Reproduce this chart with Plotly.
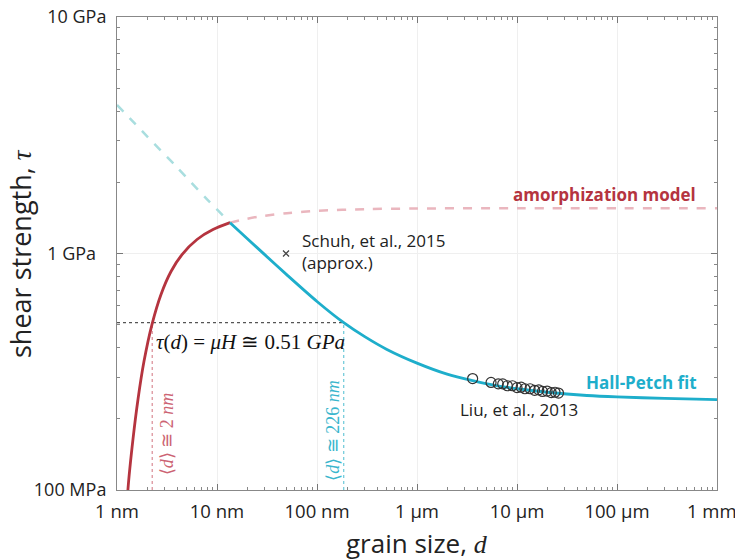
import plotly.graph_objects as go
import math

# ---------------- data ----------------
# grain size d in nm, shear strength tau in GPa
hp_dash_d = [1, 2, 4, 8, 13.5]
hp_dash_tau = [4.25, 3.13, 2.31, 1.69, 1.35]

hp_d = [13.5, 20, 30, 50, 100, 185, 300, 500, 1000, 2000, 3600, 6000, 10000, 20000, 50000, 100000, 300000, 1000000]
hp_tau = [1.35, 1.158, 0.989, 0.812, 0.627, 0.51, 0.445, 0.393, 0.344, 0.309, 0.290, 0.277, 0.268, 0.259, 0.251, 0.2475, 0.244, 0.241]

am_d = [1.26, 1.288, 1.445, 1.622, 1.862, 2.239, 2.754, 3.467, 4.467, 6.31, 9.12, 13.5]
am_tau = [0.085, 0.101, 0.164, 0.242, 0.350, 0.502, 0.671, 0.839, 0.990, 1.146, 1.262, 1.35]

am_dash_d = [13.5, 18, 27, 50, 100, 300, 1000, 10000, 1000000]
am_dash_tau = [1.35, 1.39, 1.435, 1.48, 1.515, 1.54, 1.55, 1.555, 1.555]

liu_d = [3600, 5500, 6500, 7200, 8000, 9000, 10000, 11000, 12000, 13500, 15000, 16500, 18000, 20000, 22000, 24000, 26000]
liu_tau = [0.296, 0.285, 0.281, 0.281, 0.276, 0.276, 0.271, 0.272, 0.268, 0.268, 0.264, 0.265, 0.261, 0.262, 0.258, 0.259, 0.257]

schuh_d = [49]
schuh_tau = [1.0]

tau_H = 0.51
d_am = 2.25
d_hp = 185
tau_min = 0.1

x_tickvals = [1, 10, 100, 1000, 10000, 100000, 1000000]
x_ticktext = ["1 nm", "10 nm", "100 nm", "1 µm", "10 µm", "100 µm", "1 mm\u2007"]
y_tickvals = [0.1, 1, 10]
y_ticktext = ["100 MPa", "1 GPa\u2007", "10 GPa"]

x_minor = [m * 10 ** e for e in range(0, 6) for m in range(2, 10)]
y_minor = [m * 10 ** e for e in (-1, 0) for m in range(2, 10)]

RED = "#b5343f"
CYAN = "#1eaecb"
RED_L = "#eab6be"
CYAN_L = "#a9dedf"
FONT = "Open Sans"

fig = go.Figure()

# reference dotted lines
fig.add_trace(go.Scatter(x=[1, d_hp], y=[tau_H, tau_H], mode="lines",
                         line=dict(color="#555555", width=1.2, dash="dot"), hoverinfo="skip"))
fig.add_trace(go.Scatter(x=[d_am, d_am], y=[tau_min, tau_H], mode="lines",
                         line=dict(color="#d98a94", width=1.2, dash="dot"), hoverinfo="skip"))
fig.add_trace(go.Scatter(x=[d_hp, d_hp], y=[tau_min, tau_H], mode="lines",
                         line=dict(color="#6cc8d8", width=1.2, dash="dot"), hoverinfo="skip"))

# dashed extensions
fig.add_trace(go.Scatter(x=hp_dash_d, y=hp_dash_tau, mode="lines", line_shape="spline",
                         line=dict(color=CYAN_L, width=2.5, dash="dash", smoothing=0.8)))
fig.add_trace(go.Scatter(x=am_dash_d, y=am_dash_tau, mode="lines", line_shape="spline",
                         line=dict(color=RED_L, width=2.5, dash="dash", smoothing=0.8)))

# solid curves
fig.add_trace(go.Scatter(x=am_d, y=am_tau, mode="lines", line_shape="spline",
                         line=dict(color=RED, width=2.8, smoothing=0.8)))
fig.add_trace(go.Scatter(x=hp_d, y=hp_tau, mode="lines", line_shape="spline",
                         line=dict(color=CYAN, width=2.8, smoothing=0.8)))

# data
fig.add_trace(go.Scatter(x=liu_d, y=liu_tau, mode="markers",
                         marker=dict(symbol="circle-open", size=10, color="#333333",
                                     line=dict(width=1.2))))
fig.add_trace(go.Scatter(x=schuh_d, y=schuh_tau, mode="markers",
                         marker=dict(symbol="x-thin", size=6, color="#444444",
                                     line=dict(width=1.3, color="#444444"))))

L = math.log10
ann = []
ann.append(dict(x=L(1e6), y=L(1.77), text="<b>amorphization model</b>", xanchor="right",
                yanchor="middle", xshift=-19, showarrow=False,
                font=dict(family=FONT, size=17, color=RED)))
ann.append(dict(x=L(1e6), y=L(0.286), text="<b>Hall-Petch fit</b>", xanchor="right",
                yanchor="middle", xshift=-18, showarrow=False,
                font=dict(family=FONT, size=17, color=CYAN)))
ann.append(dict(x=L(2692), y=L(0.218), text="Liu, et al., 2013", xanchor="left",
                yanchor="middle", xshift=-2, showarrow=False,
                font=dict(family=FONT, size=17, color="#222222")))
ann.append(dict(x=L(70.8), y=L(1.024), text="Schuh, et al., 2015<br>(approx.)", xanchor="left",
                yanchor="middle", align="left", xshift=-2, showarrow=False,
                font=dict(family=FONT, size=17, color="#222222")))
ann.append(dict(x=L(21.4), y=L(0.422), text="<i>τ</i>(<i>d</i>) = <i>μH</i> ≅ 0.51 <i>GPa</i>",
                showarrow=False, font=dict(family="Liberation Serif", size=21, color="#111111")))
ann.append(dict(x=L(d_am), y=L(0.1), text="⟨<i>d</i>⟩ ≅ 2 <i>nm</i>", textangle=-90,
                xanchor="center", yanchor="middle", xshift=15, yshift=56, showarrow=False,
                font=dict(family="Liberation Serif", size=18, color="#cc6373")))
ann.append(dict(x=L(d_hp), y=L(0.1), text="⟨<i>d</i>⟩ ≅ 226 <i>nm</i>", textangle=-90,
                xanchor="center", yanchor="middle", xshift=-11, yshift=60, showarrow=False,
                font=dict(family="Liberation Serif", size=18, color="#3ab6cd")))
# axis titles
ann.append(dict(x=0.5, y=0, xref="paper", yref="paper", xanchor="center", yanchor="top",
                yshift=-33, showarrow=False,
                text="grain size, <i><span style='font-family:Liberation Serif'>d</span></i>",
                font=dict(family=FONT, size=26, color="#222222")))
ann.append(dict(x=0, y=0.5, xref="paper", yref="paper", xanchor="right", yanchor="middle",
                xshift=-76, showarrow=False, textangle=-90,
                text="shear strength, <i><span style='font-family:Liberation Serif'>τ</span></i>",
                font=dict(family=FONT, size=27, color="#222222")))

# the page body has an 8 px margin, so the figure is made 8 px smaller
fig.update_layout(
    width=735, height=552,
    margin=dict(l=109, r=26, t=9, b=70, autoexpand=False),
    paper_bgcolor="white", plot_bgcolor="white",
    showlegend=False,
    annotations=ann,
    font=dict(family=FONT, color="#222222"),
)
fig.update_xaxes(
    type="log", range=[0, 6], automargin=False,
    tickmode="array", tickvals=x_tickvals, ticktext=x_ticktext,
    ticks="inside", ticklen=6, tickcolor="#777777", ticklabelstandoff=5,
    ticklabeloverflow="allow",
    minor=dict(tickmode="array", tickvals=x_minor, ticks="inside", ticklen=3,
               tickcolor="#888888", showgrid=False),
    showline=True, linecolor="#888888", linewidth=1, mirror="ticks",
    showgrid=True, gridcolor="#efefef",
    tickfont=dict(family=FONT, size=18.5, color="#222222"),
    zeroline=False,
)
fig.update_yaxes(
    type="log", range=[-1, 1], automargin=False,
    tickmode="array", tickvals=y_tickvals, ticktext=y_ticktext,
    ticks="inside", ticklen=6, tickcolor="#777777", ticklabelstandoff=6,
    ticklabeloverflow="allow",
    minor=dict(tickmode="array", tickvals=y_minor, ticks="inside", ticklen=3,
               tickcolor="#888888", showgrid=False),
    showline=True, linecolor="#888888", linewidth=1, mirror="ticks",
    showgrid=True, gridcolor="#efefef",
    tickfont=dict(family=FONT, size=18, color="#222222"),
    zeroline=False,
)

fig.write_html("out.html")
